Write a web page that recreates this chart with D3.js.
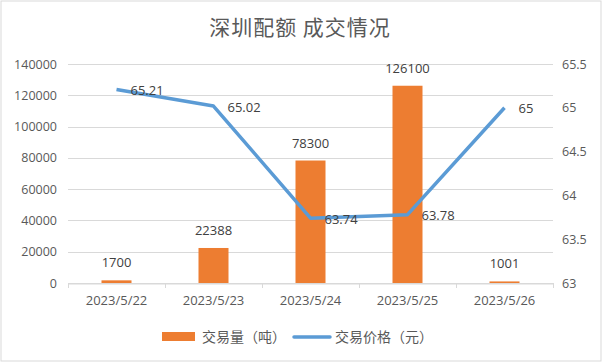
<!DOCTYPE html>
<html>
<head>
<meta charset="utf-8">
<script src="https://d3js.org/d3.v7.min.js"></script>
<style>
  body { margin: 0; background: #fff; }
  text { font-family: "Open Sans", "Noto Sans CJK SC", sans-serif; }
</style>
</head>
<body>
<div id="chart"></div>
<script>
var dates = ['2023/5/22', '2023/5/23', '2023/5/24', '2023/5/25', '2023/5/26'];
var volume = [1700, 22388, 78300, 126100, 1001];
var price = [65.21, 65.02, 63.74, 63.78, 65];
var leftTicks = [0, 20000, 40000, 60000, 80000, 100000, 120000, 140000];
var rightTicks = [63, 63.5, 64, 64.5, 65, 65.5];

var width = 602, height = 362;
var plotL = 68, plotR = 553, plotT = 64, plotB = 283;

var svg = d3.select('#chart').append('svg')
  .attr('width', width)
  .attr('height', height);

svg.append('rect')
  .attr('x', 1).attr('y', 1)
  .attr('width', width - 2).attr('height', height - 2)
  .attr('fill', '#fff')
  .attr('stroke', '#d9d9d9');

svg.append('text')
  .attr('x', 300).attr('y', 35)
  .attr('text-anchor', 'middle')
  .attr('fill', '#595959')
  .style('font-family', '"Noto Sans CJK SC"')
  .style('font-size', '21px')
  .style('letter-spacing', '1px')
  .text('深圳配额 成交情况');

var x = d3.scaleBand().domain(dates).range([plotL, plotR]);
var yL = d3.scaleLinear().domain([0, 140000]).range([plotB, plotT]);
var yR = d3.scaleLinear().domain([63, 65.5]).range([plotB, plotT]);

// gridlines
svg.selectAll('line.grid')
  .data(leftTicks)
  .enter().append('line')
  .attr('class', 'grid')
  .attr('x1', plotL).attr('x2', plotR)
  .attr('y1', function(d) { return Math.round(yL(d)) + 0.5; })
  .attr('y2', function(d) { return Math.round(yL(d)) + 0.5; })
  .attr('stroke', '#d9d9d9');

// left axis labels
svg.selectAll('text.yl')
  .data(leftTicks)
  .enter().append('text')
  .attr('class', 'yl')
  .attr('x', 57)
  .attr('y', function(d) { return yL(d) + 4.5; })
  .attr('text-anchor', 'end')
  .attr('fill', '#595959')
  .style('font-size', '12.5px')
  .text(function(d) { return d; });

// right axis labels
svg.selectAll('text.yr')
  .data(rightTicks)
  .enter().append('text')
  .attr('class', 'yr')
  .attr('x', 562)
  .attr('y', function(d) { return yR(d) + 4.5; })
  .attr('fill', '#595959')
  .style('font-size', '12.5px')
  .text(function(d) { return d; });

// category axis
var xAxis = svg.append('g')
  .attr('transform', 'translate(0,' + (plotB + 0.5) + ')')
  .call(d3.axisBottom(x).tickSize(0).tickPadding(12));
xAxis.select('.domain').attr('stroke', '#d9d9d9');
xAxis.selectAll('text')
  .attr('fill', '#595959')
  .style('font-size', '13px')
  .style('font-family', '"Open Sans"');

var sep = dates.map(function(d) { return x(d); }).concat([plotR]);
svg.selectAll('line.sep')
  .data(sep)
  .enter().append('line')
  .attr('x1', function(d) { return Math.round(d) + 0.5; })
  .attr('x2', function(d) { return Math.round(d) + 0.5; })
  .attr('y1', plotB).attr('y2', plotB + 5)
  .attr('stroke', '#d9d9d9');

// bars
var bw = 30;
svg.selectAll('rect.bar')
  .data(volume)
  .enter().append('rect')
  .attr('class', 'bar')
  .attr('x', function(d, i) { return x(dates[i]) + x.bandwidth() / 2 - bw / 2; })
  .attr('y', function(d) { return yL(d); })
  .attr('width', bw)
  .attr('height', function(d) { return plotB - yL(d); })
  .attr('fill', '#ed7d31');

svg.selectAll('text.bl')
  .data(volume)
  .enter().append('text')
  .attr('class', 'bl')
  .attr('x', function(d, i) { return x(dates[i]) + x.bandwidth() / 2; })
  .attr('y', function(d) { return yL(d) - 13; })
  .attr('text-anchor', 'middle')
  .attr('fill', '#404040')
  .style('font-size', '13px')
  .text(function(d) { return d; });

// price line
var line = d3.line()
  .x(function(d, i) { return x(dates[i]) + x.bandwidth() / 2; })
  .y(function(d) { return yR(d); });

svg.append('path')
  .datum(price)
  .attr('d', line)
  .attr('fill', 'none')
  .attr('stroke', '#5b9bd5')
  .attr('stroke-width', 3.5)
  .attr('stroke-linejoin', 'round');

svg.selectAll('text.pl')
  .data(price)
  .enter().append('text')
  .attr('class', 'pl')
  .attr('x', function(d, i) { return x(dates[i]) + x.bandwidth() / 2 + 14; })
  .attr('y', function(d) { return yR(d) + 5.5; })
  .attr('fill', '#404040')
  .style('font-size', '13px')
  .text(function(d) { return d; });

// legend
svg.append('rect')
  .attr('x', 162).attr('y', 332)
  .attr('width', 33).attr('height', 9)
  .attr('fill', '#ed7d31');
svg.append('text')
  .attr('x', 202).attr('y', 342)
  .attr('fill', '#595959')
  .style('font-family', '"Noto Sans CJK SC"')
  .style('font-size', '14px')
  .text('交易量（吨）');
svg.append('line')
  .attr('x1', 294).attr('x2', 330)
  .attr('y1', 337).attr('y2', 337)
  .attr('stroke', '#5b9bd5')
  .attr('stroke-width', 3.5)
  .attr('stroke-linecap', 'round');
svg.append('text')
  .attr('x', 335).attr('y', 342)
  .attr('fill', '#595959')
  .style('font-family', '"Noto Sans CJK SC"')
  .style('font-size', '14px')
  .text('交易价格（元）');
</script>
</body>
</html>
